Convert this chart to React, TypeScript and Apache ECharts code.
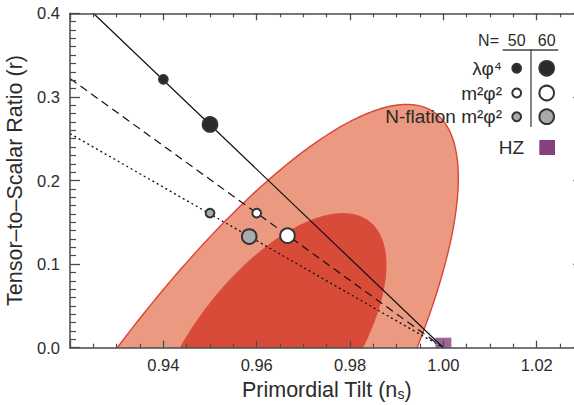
import React, { useEffect, useRef } from 'react';
import * as echarts from 'echarts';

// ---- data ----
const xTickLabels = [0.94, 0.96, 0.98, 1.0, 1.02];
const yTickLabels = [0.0, 0.1, 0.2, 0.3, 0.4];

const modelNames = ['λφ⁴', 'm²φ²', 'N-flation m²φ²'];
const nsN50 = [0.94, 0.96, 0.95];
const rN50 = [0.321, 0.161, 0.161];
const nsN60 = [0.95, 0.9666, 0.9584];
const rN60 = [0.267, 0.134, 0.133];

// prediction lines (start point, end point) in [ns, r]
const lambdaPhi4Line = [[0.925, 0.4], [1.0, 0.0]];
const m2phi2Line = [[0.92, 0.322], [1.0, 0.0]];
const nflationLine = [[0.92, 0.256], [1.0, 0.0]];

const hzPoint = [1.0, 0.0];

// confidence contours: [centre ns, centre r, half-extent ns, half-extent r, correlation]
const outerContour = [0.9418, -0.199, 0.0614, 0.49, 0.82];
const innerContour = [0.9624, -0.008, 0.0254, 0.169, 0.633];

// ---- styles ----
const FONT = '"Liberation Sans", Arial, Helvetica, sans-serif';
const AXIS_COLOR = '#4a4a4a';
const TEXT_COLOR = '#2b2b2b';
const markerFills = ['#2a2a2a', '#ffffff', '#a9aaae'];
const MARKER_BORDER = '#333333';
const OUTER_FILL = '#eb9a81';
const OUTER_STROKE = '#dc4535';
const INNER_FILL = '#d74b38';
const HZ_COLOR = '#86407f';

function near(v: number, list: number[]) {
  return list.some((t) => Math.abs(t - v) < 1e-9);
}

function contourSeries(params: number[], fill: string, stroke: string | null) {
  return {
    type: 'custom',
    silent: true,
    clip: true,
    z: 1,
    xAxisIndex: 0,
    yAxisIndex: 0,
    encode: { x: 0, y: 1 },
    data: [params],
    renderItem: (_p: any, api: any) => {
      const cn = api.value(0);
      const cr = api.value(1);
      const sn = api.value(2);
      const sr = api.value(3);
      const rho = api.value(4);
      const q = Math.sqrt(1 - rho * rho);
      const pts: number[][] = [];
      const n = 360;
      for (let i = 0; i < n; i++) {
        const t = (i / n) * Math.PI * 2;
        pts.push(api.coord([cn + sn * Math.cos(t), cr + sr * (rho * Math.cos(t) + q * Math.sin(t))]));
      }
      return {
        type: 'polygon',
        shape: { points: pts },
        style: stroke
          ? { fill, stroke, lineWidth: 1.4 }
          : { fill, stroke: 'none' },
      };
    },
  };
}

function axisCommon() {
  return {
    type: 'value',
    z: 10,
    splitLine: { show: false },
    axisLine: { show: true, onZero: false, lineStyle: { color: AXIS_COLOR, width: 1.5 } },
  };
}

export default function App() {
  const ref = useRef<HTMLDivElement>(null);

  useEffect(() => {
    if (!ref.current) return;
    const chart = echarts.init(ref.current, undefined, { renderer: 'svg' });

    const xBase = {
      ...axisCommon(),
      min: 0.92,
      max: 1.03,
      interval: 0.02,
      axisTick: { show: true, inside: true, length: 7, lineStyle: { color: AXIS_COLOR, width: 1.3 } },
      minorTick: { show: true, splitNumber: 4, length: 4, lineStyle: { color: AXIS_COLOR, width: 1.2 } },
    };
    const yBase = {
      ...axisCommon(),
      min: 0,
      max: 0.4,
      interval: 0.1,
      axisTick: { show: true, inside: true, length: 10, lineStyle: { color: AXIS_COLOR, width: 1.3 } },
      minorTick: { show: true, splitNumber: 10, length: 6, lineStyle: { color: AXIS_COLOR, width: 1.2 } },
    };

    const Z = 100;
    const legendRowsY = [68.3, 93, 116.7];
    const legendGraphics: any[] = [
      { type: 'text', z: Z, x: 499, y: 40, style: { text: 'N=', font: `16px ${FONT}`, fill: TEXT_COLOR, align: 'right', verticalAlign: 'middle' } },
      { type: 'text', z: Z, x: 516.7, y: 40, style: { text: '50', font: `16px ${FONT}`, fill: TEXT_COLOR, align: 'center', verticalAlign: 'middle' } },
      { type: 'text', z: Z, x: 546.7, y: 40, style: { text: '60', font: `16px ${FONT}`, fill: TEXT_COLOR, align: 'center', verticalAlign: 'middle' } },
      { type: 'line', z: Z, shape: { x1: 502.7, y1: 50, x2: 558.3, y2: 50 }, style: { stroke: '#444', lineWidth: 1.3 } },
      { type: 'line', z: Z, shape: { x1: 531, y1: 49, x2: 531, y2: 127 }, style: { stroke: '#444', lineWidth: 1.3 } },
    ];
    modelNames.forEach((name, i) => {
      const y = legendRowsY[i];
      legendGraphics.push(
        { type: 'text', z: Z, x: 502, y, style: { text: name, font: `19px ${FONT}`, fill: TEXT_COLOR, align: 'right', verticalAlign: 'middle' } },
        { type: 'circle', z: Z, shape: { cx: 516.7, cy: y, r: 4.4 }, style: { fill: markerFills[i], stroke: MARKER_BORDER, lineWidth: 2 } },
        { type: 'circle', z: Z, shape: { cx: 546.7, cy: y, r: 7.3 }, style: { fill: markerFills[i], stroke: MARKER_BORDER, lineWidth: 2 } },
      );
    });
    legendGraphics.push(
      { type: 'text', z: Z, x: 524, y: 147.5, style: { text: 'HZ', font: `19px ${FONT}`, fill: TEXT_COLOR, align: 'right', verticalAlign: 'middle' } },
      { type: 'rect', z: Z, shape: { x: 539.3, y: 140, width: 15.7, height: 15 }, style: { fill: HZ_COLOR } },
    );

    const option: any = {
      animation: false,
      backgroundColor: '#ffffff',
      textStyle: { fontFamily: FONT },
      grid: { left: 70, top: 13.3, right: -9.4, bottom: 57.3, containLabel: false, outerBoundsMode: 'none' },
      xAxis: [
        {
          ...xBase,
          position: 'bottom',
          axisLabel: {
            show: true,
            margin: 9,
            fontSize: 16.5,
            color: TEXT_COLOR,
            fontFamily: FONT,
            formatter: (v: number) => (near(v, xTickLabels) ? v.toFixed(2) : ''),
          },
          name: '{a|Primordial Tilt (n}{s|s}{a|)}',
          nameLocation: 'middle',
          nameGap: 27,
          nameTextStyle: {
            color: TEXT_COLOR,
            fontFamily: FONT,
            rich: {
              a: { fontSize: 21.5, lineHeight: 23, color: TEXT_COLOR, fontFamily: FONT, verticalAlign: 'bottom' },
              s: { fontSize: 14, lineHeight: 4, color: TEXT_COLOR, fontFamily: FONT, verticalAlign: 'bottom' },
            },
          },
        },
        { ...xBase, position: 'top', axisLabel: { show: false } },
      ],
      yAxis: [
        {
          ...yBase,
          position: 'left',
          axisLabel: {
            show: true,
            margin: 10,
            fontSize: 16.5,
            color: TEXT_COLOR,
            fontFamily: FONT,
            formatter: (v: number) => (near(v, yTickLabels) ? v.toFixed(1) : ''),
          },
          name: 'Tensor–to–Scalar Ratio (r)',
          nameLocation: 'middle',
          nameGap: 36,
          nameTextStyle: { color: TEXT_COLOR, fontFamily: FONT, fontSize: 21.5 },
        },
        { ...yBase, position: 'right', axisLabel: { show: false } },
      ],
      graphic: legendGraphics,
      series: [
        contourSeries(outerContour, OUTER_FILL, OUTER_STROKE),
        contourSeries(innerContour, INNER_FILL, null),
        {
          type: 'scatter',
          silent: true,
          z: 2,
          data: [hzPoint],
          symbol: 'rect',
          symbolSize: [16, 10],
          symbolOffset: [0, -5],
          itemStyle: { color: HZ_COLOR },
        },
        {
          type: 'line',
          silent: true,
          z: 3,
          data: lambdaPhi4Line,
          showSymbol: false,
          symbol: 'none',
          lineStyle: { color: '#111', width: 1.2, type: 'solid' },
        },
        {
          type: 'line',
          silent: true,
          z: 3,
          data: m2phi2Line,
          showSymbol: false,
          symbol: 'none',
          lineStyle: { color: '#111', width: 1.2, type: [8, 5] },
        },
        {
          type: 'line',
          silent: true,
          z: 3,
          data: nflationLine,
          showSymbol: false,
          symbol: 'none',
          lineStyle: { color: '#111', width: 1.3, type: [2, 3] },
        },
        {
          type: 'scatter',
          silent: true,
          z: 6,
          symbolSize: 8.8,
          itemStyle: { borderColor: MARKER_BORDER, borderWidth: 2, opacity: 1 },
          data: nsN50.map((x, i) => ({ value: [x, rN50[i]], itemStyle: { color: markerFills[i] } })),
        },
        {
          type: 'scatter',
          silent: true,
          z: 6,
          symbolSize: 14.6,
          itemStyle: { borderColor: MARKER_BORDER, borderWidth: 2, opacity: 1 },
          data: nsN60.map((x, i) => ({ value: [x, rN60[i]], itemStyle: { color: markerFills[i] } })),
        },
      ],
    };

    chart.setOption(option);
    return () => {
      chart.dispose();
    };
  }, []);

  return (
    <div
      ref={ref}
      style={{ position: 'fixed', left: 0, top: 0, width: 574, height: 405, background: '#fff' }}
    />
  );
}
